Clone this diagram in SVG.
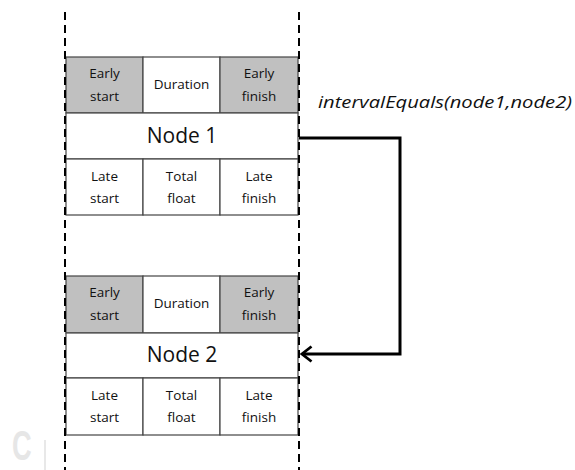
<svg xmlns="http://www.w3.org/2000/svg" width="575" height="470" viewBox="0 0 575 470">
<style>
.cell{stroke:#444;stroke-width:1.2}
.g{fill:#c0c0c0}
.w{fill:#fff}
.t{font-family:"Open Sans",sans-serif;font-size:13.5px;fill:#111;text-anchor:middle}
.n{font-family:"Open Sans",sans-serif;font-size:21px;fill:#111;text-anchor:middle}
.dash{stroke:#000;stroke-width:2;stroke-dasharray:8 5;fill:none}
.conn{stroke:#000;stroke-width:3;fill:none}
.lbl{font-family:"Open Sans",sans-serif;font-style:italic;font-size:17px;fill:#111}
</style>
<defs>
<marker id="arr" viewBox="0 0 13 18" refX="11" refY="9" markerWidth="13" markerHeight="18" markerUnits="userSpaceOnUse" orient="auto">
<path d="M1.5 1.5 L11 9 L1.5 16.5" fill="none" stroke="#000" stroke-width="2.8"/>
</marker>
</defs>
<rect width="575" height="470" fill="#fff"/>
<text transform="translate(12 460) scale(0.8 1.25)" font-family="'Liberation Sans',sans-serif" font-weight="bold" font-size="34" fill="#e6e6e6">C</text>
<rect x="44" y="440" width="2" height="30" fill="#e8e8e8"/>
<g id="node1">
<rect class="cell g" x="66" y="57" width="77" height="56"/>
<rect class="cell w" x="143" y="57" width="77" height="56"/>
<rect class="cell g" x="220" y="57" width="78" height="56"/>
<rect class="cell w" x="66" y="113" width="232" height="46"/>
<rect class="cell w" x="66" y="159" width="77" height="56"/>
<rect class="cell w" x="143" y="159" width="77" height="56"/>
<rect class="cell w" x="220" y="159" width="78" height="56"/>
<text class="t" x="104.5" y="77.5">Early</text>
<text class="t" x="104.5" y="101">start</text>
<text class="t" x="181.5" y="89">Duration</text>
<text class="t" x="259" y="77.5">Early</text>
<text class="t" x="259" y="101">finish</text>
<text class="n" x="182" y="143">Node 1</text>
<text class="t" x="104.5" y="180.5">Late</text>
<text class="t" x="104.5" y="203">start</text>
<text class="t" x="181.5" y="180.5">Total</text>
<text class="t" x="181.5" y="203">float</text>
<text class="t" x="259" y="180.5">Late</text>
<text class="t" x="259" y="203">finish</text>
</g>
<g id="node2">
<rect class="cell g" x="66" y="276" width="77" height="57"/>
<rect class="cell w" x="143" y="276" width="77" height="57"/>
<rect class="cell g" x="220" y="276" width="78" height="57"/>
<rect class="cell w" x="66" y="333" width="232" height="45"/>
<rect class="cell w" x="66" y="378" width="77" height="57"/>
<rect class="cell w" x="143" y="378" width="77" height="57"/>
<rect class="cell w" x="220" y="378" width="78" height="57"/>
<text class="t" x="104.5" y="296.5">Early</text>
<text class="t" x="104.5" y="320">start</text>
<text class="t" x="181.5" y="308">Duration</text>
<text class="t" x="259" y="296.5">Early</text>
<text class="t" x="259" y="320">finish</text>
<text class="n" x="182" y="362">Node 2</text>
<text class="t" x="104.5" y="399.5">Late</text>
<text class="t" x="104.5" y="422">start</text>
<text class="t" x="181.5" y="399.5">Total</text>
<text class="t" x="181.5" y="422">float</text>
<text class="t" x="259" y="399.5">Late</text>
<text class="t" x="259" y="422">finish</text>
</g>
<g id="lifelines">
<line class="dash" x1="65" y1="12" x2="65" y2="470"/>
<line class="dash" x1="299" y1="12" x2="299" y2="470"/>
</g>
<g id="connectors">
<path class="conn" d="M299 138 H400 V354 H302" marker-end="url(#arr)"/>
<text class="lbl" x="318" y="108" textLength="254" lengthAdjust="spacingAndGlyphs">intervalEquals(node1,node2)</text>
</g>
</svg>
